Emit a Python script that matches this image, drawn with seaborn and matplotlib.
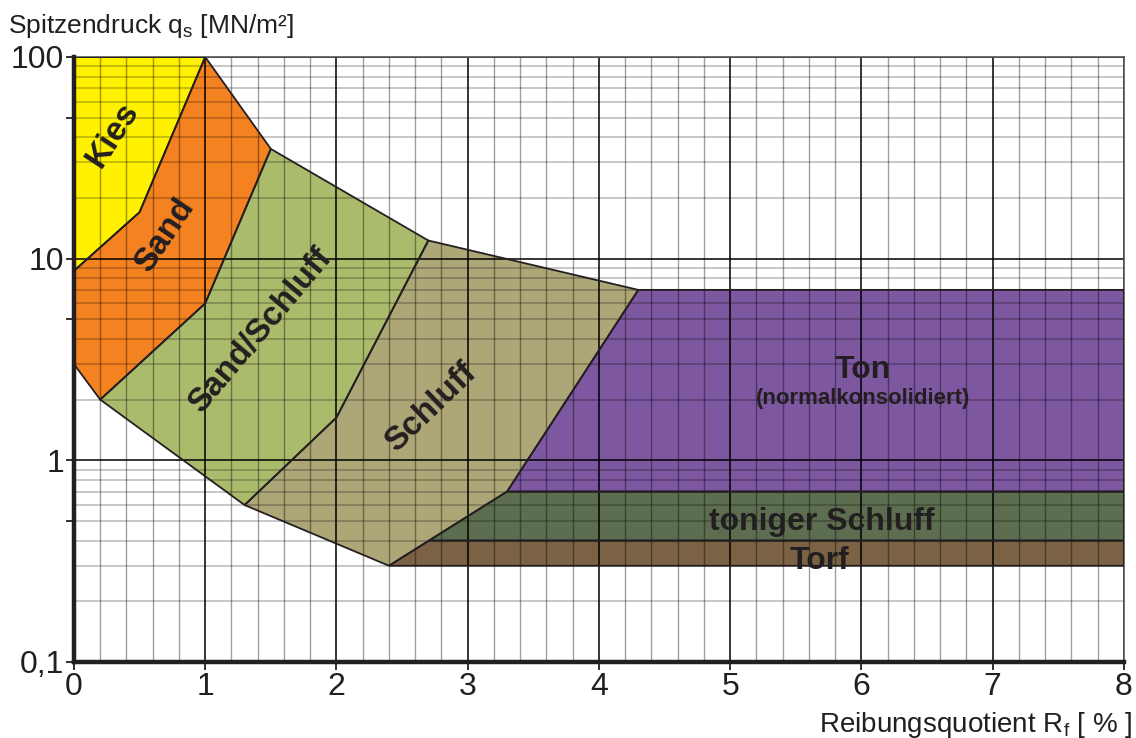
import numpy as np
import matplotlib
matplotlib.use("Agg")
import matplotlib.pyplot as plt
from matplotlib.patches import Polygon
import seaborn as sns

# Soil zones in the (friction ratio, cone resistance) plane
kies_x = [0.0, 1.0, 0.5, 0.0]
kies_y = [100, 100, 17, 8.7]

sand_x = [1.0, 1.5, 1.0, 0.2, 0.0, 0.0, 0.5]
sand_y = [100, 35, 6.0, 2.0, 3.0, 8.7, 17]

sand_schluff_x = [1.5, 2.7, 2.0, 1.3, 0.2, 1.0]
sand_schluff_y = [35, 12.3, 1.63, 0.6, 2.0, 6.0]

schluff_x = [2.7, 4.3, 3.3, 2.4, 1.3, 2.0]
schluff_y = [12.3, 7.0, 0.7, 0.3, 0.6, 1.63]

ton_x = [4.3, 8.0, 8.0, 3.3]
ton_y = [7.0, 7.0, 0.7, 0.7]

toniger_schluff_x = [3.3, 8.0, 8.0, 2.705]
toniger_schluff_y = [0.7, 0.7, 0.4, 0.4]

torf_x = [2.705, 8.0, 8.0, 2.4]
torf_y = [0.4, 0.4, 0.3, 0.3]

zone_colors = {
    "Kies": "#FFF100",
    "Sand": "#F58220",
    "Sand/Schluff": "#AABB6C",
    "Schluff": "#ADA677",
    "Ton": "#7D57A0",
    "toniger Schluff": "#5C6E4F",
    "Torf": "#7C6244",
}

x_ticks = [0, 1, 2, 3, 4, 5, 6, 7, 8]
x_tick_labels = ["0", "1", "2", "3", "4", "5", "6", "7", "8"]
y_ticks = [0.1, 0.5, 1, 5, 10, 50, 100]
y_tick_labels = ["0,1", "", "1", "", "10", "", "100"]

sns.set_theme(style="white")
plt.rcParams["font.family"] = ["Liberation Sans", "DejaVu Sans"]
plt.rcParams["mathtext.fontset"] = "custom"
plt.rcParams["mathtext.rm"] = "Liberation Sans"
plt.rcParams["mathtext.it"] = "Liberation Sans"

ink = "#231F20"

fig = plt.figure(figsize=(11.36, 7.38), dpi=100)
ax = fig.add_axes([0.0651, 0.1030, 0.9243, 0.8198])
ax.set_yscale("log")
ax.set_xlim(0, 8)
ax.set_ylim(0.1, 100)

zones = [
    ("Kies", kies_x, kies_y),
    ("Sand", sand_x, sand_y),
    ("Sand/Schluff", sand_schluff_x, sand_schluff_y),
    ("Schluff", schluff_x, schluff_y),
    ("Ton", ton_x, ton_y),
    ("toniger Schluff", toniger_schluff_x, toniger_schluff_y),
    ("Torf", torf_x, torf_y),
]
for name, xs, ys in zones:
    ax.fill(xs, ys, facecolor=zone_colors[name], edgecolor="none", zorder=1)

# Grid drawn over the zones
for v in np.arange(0.2, 8.0, 0.2):
    if abs(v - round(v)) > 1e-6:
        ax.axvline(v, color="black", alpha=0.38, lw=1.0, zorder=2)
for d in [0.1, 1, 10]:
    for m in range(2, 10):
        ax.axhline(d * m, color="black", alpha=0.22, lw=1.4, zorder=2)
for v in range(1, 9):
    ax.axvline(v, color="black", alpha=0.85, lw=1.3, zorder=2)
for v in [1, 10, 100]:
    ax.axhline(v, color="black", alpha=0.85, lw=1.3, zorder=2)

# Zone outlines
for name, xs, ys in zones:
    ax.fill(xs, ys, facecolor="none", edgecolor=ink, lw=1.3, zorder=3,
            joinstyle="miter")

# Zone labels
lab = dict(color=ink, fontweight="bold", ha="center", va="center", zorder=4)
ax.text(0.30, 41, "Kies", rotation=57, fontsize=24, **lab)
ax.text(0.69, 13.1, "Sand", rotation=56, fontsize=24, **lab)
ax.text(1.42, 4.4, "Sand/Schluff", rotation=50, fontsize=24, **lab)
ax.text(2.72, 1.83, "Schluff", rotation=44, fontsize=24, **lab)

lab_b = dict(color=ink, fontweight="bold", ha="center", va="baseline", zorder=4)
ax.text(6.01, 2.55, "Ton", fontsize=23, **lab_b)
ax.text(6.01, 1.90, "(normalkonsolidiert)", fontsize=16, **lab_b)
ax.text(5.70, 0.45, "toniger Schluff", fontsize=23, **lab_b)
torf_label = ax.text(5.68, 0.288, "Torf", fontsize=23, **lab_b)
torf_clip = Polygon(np.column_stack([torf_x, torf_y]), closed=True,
                    transform=ax.transData)
torf_label.set_clip_path(torf_clip)

# Axes, ticks
ax.set_xticks(x_ticks)
ax.set_xticklabels(x_tick_labels)
ax.set_yticks(y_ticks)
ax.set_yticklabels(y_tick_labels)
ax.minorticks_off()
ax.tick_params(axis="both", which="major", direction="out", length=6,
               width=1.3, color=ink, labelsize=23, labelcolor=ink, pad=1,
               left=True, bottom=True)
for side in ["left", "bottom"]:
    ax.spines[side].set_linewidth(3.2)
    ax.spines[side].set_color(ink)
    ax.spines[side].set_zorder(5)
for side in ["top", "right"]:
    ax.spines[side].set_linewidth(1.2)
    ax.spines[side].set_color("#555555")

fig.text(0.007, 1 - 33 / 738, r"Spitzendruck q$_\mathregular{s}$ [MN/m²]",
         fontsize=19, color=ink, ha="left", va="baseline")
fig.text(0.997, 1 - 732 / 738, r"Reibungsquotient R$_\mathregular{f}$ [ % ]",
         fontsize=20, color=ink, ha="right", va="baseline")

fig.savefig("out.png", dpi=100)
